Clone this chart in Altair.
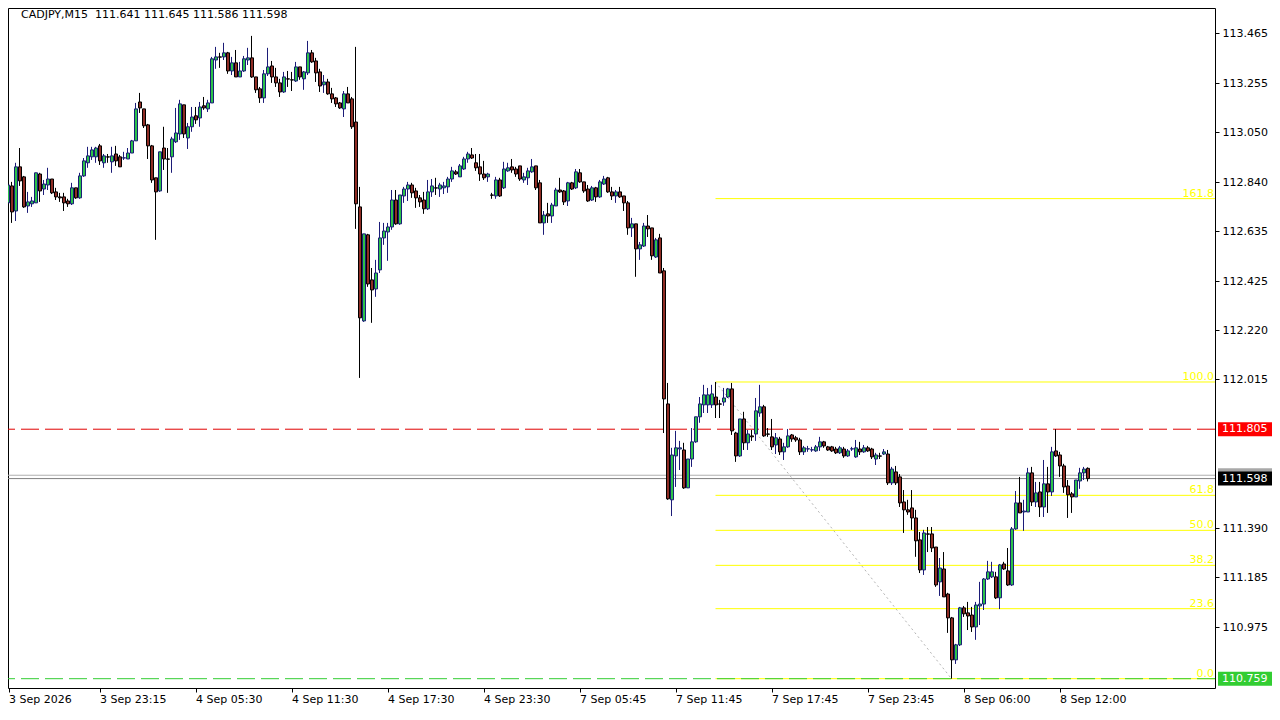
import altair as alt
import pandas as pd

# ---------------- data ----------------
opens = [
    112.641, 112.754, 112.825, 112.720, 112.905, 112.863, 112.741, 112.750, 112.754, 112.875,
    112.812, 112.829, 112.854, 112.800, 112.779, 112.779, 112.762, 112.750, 112.817, 112.775,
    112.867, 112.922, 112.947, 112.947, 112.993, 112.922, 112.947, 112.926, 112.959, 112.947,
    112.942, 112.938, 112.963, 113.014, 113.177, 113.148, 113.081, 112.993, 112.859, 112.804,
    112.984, 112.938, 112.947, 113.010, 113.043, 113.165, 113.026, 113.073, 113.119, 113.110,
    113.161, 113.148, 113.173, 113.353, 113.366, 113.366, 113.383, 113.307, 113.341, 113.282,
    113.307, 113.353, 113.362, 113.282, 113.232, 113.194, 113.295, 113.328, 113.282, 113.257,
    113.219, 113.274, 113.270, 113.265, 113.324, 113.274, 113.299, 113.383, 113.349, 113.303,
    113.249, 113.261, 113.211, 113.194, 113.173, 113.148, 113.211, 113.190, 113.093, 112.737,
    112.259, 112.620, 112.431, 112.393, 112.473, 112.607, 112.632, 112.653, 112.766, 112.666,
    112.783, 112.812, 112.829, 112.804, 112.775, 112.766, 112.729, 112.800, 112.817, 112.812,
    112.817, 112.821, 112.854, 112.884, 112.863, 112.896, 112.938, 112.955, 112.922, 112.905,
    112.875, 112.863, 112.787, 112.783, 112.850, 112.817, 112.888, 112.905, 112.896, 112.909,
    112.850, 112.859, 112.884, 112.909, 112.838, 112.670, 112.708, 112.699, 112.741, 112.808,
    112.804, 112.762, 112.838, 112.817, 112.880, 112.842, 112.812, 112.766, 112.817, 112.779,
    112.833, 112.859, 112.800, 112.783, 112.800, 112.783, 112.754, 112.649, 112.666, 112.561,
    112.573, 112.657, 112.649, 112.527, 112.607, 112.469, 111.911, 111.509, 111.693, 111.722,
    111.718, 111.559, 111.680, 111.752, 111.857, 111.907, 111.907, 111.907, 111.940, 111.911,
    111.919, 111.940, 111.974, 111.789, 111.693, 111.848, 111.748, 111.777, 111.785, 111.873,
    111.899, 111.785, 111.773, 111.739, 111.764, 111.710, 111.731, 111.781, 111.769, 111.760,
    111.710, 111.722, 111.718, 111.714, 111.731, 111.752, 111.731, 111.731, 111.722, 111.706,
    111.722, 111.693, 111.722, 111.689, 111.722, 111.710, 111.727, 111.722, 111.680, 111.693,
    111.701, 111.701, 111.580, 111.626, 111.605, 111.500, 111.467, 111.475, 111.433, 111.341,
    111.215, 111.366, 111.366, 111.311, 111.165, 111.219, 111.114, 111.014, 110.838, 110.901,
    111.056, 111.035, 111.026, 110.976, 111.064, 111.072, 111.177, 111.186, 111.186, 111.098,
    111.240, 111.211, 111.152, 111.387, 111.496, 111.458, 111.458, 111.622, 111.500, 111.542,
    111.479, 111.576, 111.542, 111.714, 111.697, 111.651, 111.567, 111.534, 111.521, 111.588,
    111.622, 111.641,
]
highs = [
    112.775, 112.842, 112.842, 112.922, 112.984, 112.867, 112.800, 112.779, 112.880, 112.880,
    112.850, 112.901, 112.854, 112.817, 112.796, 112.796, 112.771, 112.838, 112.817, 112.880,
    112.942, 112.989, 112.989, 112.989, 113.001, 112.959, 112.959, 112.989, 112.993, 112.955,
    112.968, 112.984, 113.018, 113.173, 113.215, 113.148, 113.085, 112.997, 112.859, 112.968,
    113.073, 112.984, 113.031, 113.152, 113.186, 113.165, 113.089, 113.156, 113.156, 113.177,
    113.198, 113.186, 113.366, 113.408, 113.383, 113.425, 113.387, 113.366, 113.395, 113.345,
    113.370, 113.404, 113.454, 113.282, 113.240, 113.311, 113.404, 113.349, 113.320, 113.274,
    113.303, 113.307, 113.303, 113.345, 113.324, 113.307, 113.433, 113.395, 113.362, 113.316,
    113.290, 113.274, 113.236, 113.198, 113.177, 113.223, 113.240, 113.198, 113.408, 112.821,
    112.624, 112.624, 112.481, 112.515, 112.674, 112.670, 112.670, 112.808, 112.808, 112.787,
    112.821, 112.842, 112.838, 112.817, 112.787, 112.800, 112.850, 112.854, 112.859, 112.838,
    112.842, 112.863, 112.905, 112.892, 112.917, 112.947, 112.968, 112.984, 112.959, 112.959,
    112.930, 112.880, 112.796, 112.863, 112.859, 112.926, 112.922, 112.938, 112.905, 112.909,
    112.880, 112.901, 112.938, 112.909, 112.850, 112.720, 112.754, 112.754, 112.817, 112.859,
    112.808, 112.842, 112.842, 112.896, 112.896, 112.842, 112.829, 112.825, 112.821, 112.850,
    112.867, 112.863, 112.821, 112.808, 112.821, 112.783, 112.762, 112.691, 112.666, 112.590,
    112.670, 112.703, 112.649, 112.607, 112.624, 112.481, 111.999, 111.727, 111.798, 111.756,
    111.748, 111.680, 111.810, 111.857, 111.940, 111.991, 111.978, 111.991, 112.003, 111.928,
    111.978, 111.978, 111.999, 111.794, 111.848, 111.878, 111.802, 111.802, 111.936, 111.991,
    111.907, 111.810, 111.848, 111.789, 111.773, 111.748, 111.806, 111.785, 111.777, 111.769,
    111.735, 111.735, 111.731, 111.739, 111.773, 111.756, 111.735, 111.735, 111.731, 111.735,
    111.731, 111.722, 111.731, 111.760, 111.752, 111.739, 111.735, 111.727, 111.706, 111.706,
    111.722, 111.718, 111.647, 111.651, 111.617, 111.550, 111.509, 111.550, 111.467, 111.374,
    111.383, 111.395, 111.395, 111.311, 111.265, 111.290, 111.119, 111.018, 110.905, 111.060,
    111.064, 111.081, 111.060, 111.081, 111.165, 111.181, 111.253, 111.249, 111.207, 111.240,
    111.249, 111.307, 111.395, 111.546, 111.605, 111.509, 111.643, 111.647, 111.584, 111.584,
    111.676, 111.647, 111.731, 111.805, 111.710, 111.660, 111.592, 111.542, 111.592, 111.643,
    111.647, 111.645,
]
lows = [
    112.611, 112.683, 112.670, 112.678, 112.825, 112.733, 112.712, 112.737, 112.754, 112.758,
    112.787, 112.808, 112.791, 112.766, 112.758, 112.720, 112.737, 112.745, 112.771, 112.771,
    112.863, 112.901, 112.934, 112.922, 112.913, 112.901, 112.922, 112.880, 112.909, 112.905,
    112.934, 112.938, 112.963, 113.014, 113.131, 113.068, 112.938, 112.838, 112.599, 112.800,
    112.892, 112.796, 112.880, 113.005, 113.018, 113.026, 112.980, 113.052, 113.085, 113.073,
    113.144, 113.135, 113.173, 113.316, 113.320, 113.353, 113.295, 113.290, 113.282, 113.282,
    113.303, 113.332, 113.278, 113.215, 113.173, 113.173, 113.286, 113.257, 113.240, 113.198,
    113.215, 113.240, 113.223, 113.261, 113.270, 113.228, 113.290, 113.341, 113.261, 113.219,
    113.215, 113.207, 113.173, 113.156, 113.148, 113.114, 113.173, 113.064, 112.645, 112.020,
    112.255, 112.402, 112.251, 112.360, 112.460, 112.578, 112.511, 112.641, 112.662, 112.662,
    112.754, 112.762, 112.775, 112.733, 112.737, 112.708, 112.724, 112.779, 112.787, 112.779,
    112.791, 112.796, 112.842, 112.871, 112.863, 112.892, 112.922, 112.938, 112.888, 112.846,
    112.850, 112.842, 112.771, 112.771, 112.779, 112.812, 112.884, 112.880, 112.863, 112.846,
    112.838, 112.829, 112.880, 112.808, 112.670, 112.620, 112.670, 112.670, 112.741, 112.796,
    112.745, 112.741, 112.808, 112.812, 112.838, 112.796, 112.758, 112.762, 112.758, 112.775,
    112.829, 112.796, 112.766, 112.754, 112.775, 112.720, 112.620, 112.611, 112.444, 112.515,
    112.569, 112.611, 112.515, 112.523, 112.460, 111.789, 111.509, 111.441, 111.563, 111.634,
    111.555, 111.559, 111.647, 111.748, 111.832, 111.873, 111.873, 111.894, 111.852, 111.852,
    111.903, 111.936, 111.781, 111.668, 111.689, 111.718, 111.718, 111.756, 111.756, 111.857,
    111.773, 111.773, 111.718, 111.701, 111.697, 111.676, 111.727, 111.752, 111.752, 111.697,
    111.697, 111.710, 111.710, 111.710, 111.714, 111.727, 111.714, 111.710, 111.701, 111.701,
    111.685, 111.689, 111.714, 111.685, 111.697, 111.706, 111.710, 111.680, 111.655, 111.680,
    111.697, 111.571, 111.571, 111.571, 111.479, 111.370, 111.446, 111.383, 111.270, 111.202,
    111.194, 111.290, 111.290, 111.144, 111.106, 111.102, 110.951, 110.759, 110.821, 110.896,
    111.018, 110.963, 110.955, 110.922, 110.984, 111.047, 111.173, 111.181, 111.093, 111.051,
    111.215, 111.148, 111.148, 111.383, 111.454, 111.379, 111.458, 111.483, 111.479, 111.437,
    111.437, 111.454, 111.525, 111.689, 111.605, 111.538, 111.433, 111.454, 111.521, 111.555,
    111.592, 111.586,
]
closes = [
    112.758, 112.829, 112.716, 112.905, 112.846, 112.737, 112.758, 112.762, 112.880, 112.804,
    112.833, 112.854, 112.796, 112.779, 112.775, 112.754, 112.750, 112.817, 112.775, 112.867,
    112.930, 112.951, 112.976, 112.984, 112.930, 112.951, 112.946, 112.951, 112.930, 112.905,
    112.943, 112.963, 113.014, 113.148, 113.152, 113.077, 112.993, 112.850, 112.800, 112.968,
    112.938, 112.937, 113.022, 113.047, 113.169, 113.043, 113.073, 113.114, 113.102, 113.156,
    113.152, 113.173, 113.358, 113.366, 113.365, 113.383, 113.307, 113.341, 113.282, 113.307,
    113.358, 113.362, 113.282, 113.228, 113.194, 113.295, 113.324, 113.282, 113.257, 113.219,
    113.282, 113.273, 113.269, 113.324, 113.282, 113.303, 113.383, 113.345, 113.299, 113.244,
    113.261, 113.211, 113.190, 113.169, 113.152, 113.211, 113.173, 113.073, 112.750, 112.272,
    112.624, 112.414, 112.389, 112.460, 112.607, 112.636, 112.653, 112.766, 112.666, 112.787,
    112.812, 112.829, 112.796, 112.775, 112.758, 112.729, 112.800, 112.825, 112.816, 112.829,
    112.825, 112.854, 112.888, 112.875, 112.909, 112.938, 112.959, 112.942, 112.901, 112.875,
    112.859, 112.875, 112.786, 112.850, 112.783, 112.896, 112.901, 112.892, 112.875, 112.854,
    112.863, 112.888, 112.905, 112.817, 112.670, 112.703, 112.699, 112.745, 112.808, 112.800,
    112.758, 112.838, 112.812, 112.884, 112.842, 112.804, 112.762, 112.817, 112.779, 112.842,
    112.854, 112.800, 112.783, 112.800, 112.779, 112.754, 112.649, 112.666, 112.561, 112.578,
    112.657, 112.645, 112.532, 112.599, 112.460, 111.932, 111.513, 111.697, 111.727, 111.727,
    111.559, 111.680, 111.752, 111.857, 111.911, 111.949, 111.949, 111.953, 111.907, 111.910,
    111.936, 111.974, 111.798, 111.693, 111.848, 111.748, 111.785, 111.773, 111.882, 111.899,
    111.777, 111.784, 111.731, 111.769, 111.710, 111.731, 111.777, 111.764, 111.760, 111.710,
    111.727, 111.723, 111.719, 111.731, 111.752, 111.735, 111.718, 111.714, 111.706, 111.727,
    111.693, 111.714, 111.723, 111.727, 111.710, 111.727, 111.714, 111.689, 111.697, 111.692,
    111.710, 111.580, 111.638, 111.580, 111.496, 111.467, 111.458, 111.433, 111.337, 111.215,
    111.370, 111.365, 111.307, 111.152, 111.223, 111.102, 111.014, 110.838, 110.901, 111.056,
    111.031, 111.022, 110.976, 111.068, 111.072, 111.177, 111.207, 111.207, 111.098, 111.236,
    111.219, 111.152, 111.387, 111.496, 111.454, 111.462, 111.622, 111.500, 111.538, 111.479,
    111.576, 111.542, 111.710, 111.693, 111.651, 111.563, 111.530, 111.521, 111.592, 111.622,
    111.638, 111.598,
]

tick_idx = [0, 24, 48, 72, 96, 120, 144, 168, 192, 216, 240, 264]
tick_labels = ["3 Sep 2026", "3 Sep 23:15", "4 Sep 05:30", "4 Sep 11:30", "4 Sep 17:30",
               "4 Sep 23:30", "7 Sep 05:45", "7 Sep 11:45", "7 Sep 17:45", "7 Sep 23:45",
               "8 Sep 06:00", "8 Sep 12:00"]
price_ticks = [113.465, 113.255, 113.050, 112.840, 112.635, 112.425, 112.220, 112.015,
               111.390, 111.185, 110.975]

fib_ratios = [0.0, 23.6, 38.2, 50.0, 61.8, 100.0, 161.8]
fib_hi_idx, fib_hi = 178, 112.003
fib_lo_idx, fib_lo = 237, 110.759

red_level = 111.805
green_level = 110.759
bid_level = 111.598
ask_level = 111.612
title_text = "CADJPY,M15\u00a0\u00a0111.641 111.645 111.586 111.598"

# ---------------- layout ----------------
W, H = 1207, 680
X_DOM = [1.125, 302.875]
Y_DOM = [110.720, 113.571]
FONT = "DejaVu Sans"

BULL_FILL, BULL_LINE = "#2cc24a", "#1c1c78"
BEAR_FILL, BEAR_LINE = "#8e2c24", "#000000"

n = len(opens)
df = pd.DataFrame({"i": list(range(n)), "o": opens, "h": highs, "l": lows, "c": closes})
df["bull"] = df["c"] >= df["o"]

thr = [(tick_idx[k] + tick_idx[k + 1]) / 2 for k in range(len(tick_idx) - 1)]
expr = "'" + tick_labels[-1] + "'"
for k in range(len(thr) - 1, -1, -1):
    expr = f"datum.value < {thr[k]} ? '{tick_labels[k]}' : " + expr
tick_vals = [max(t, X_DOM[0] + 0.125) for t in tick_idx]

xscale = alt.Scale(domain=X_DOM, nice=False, zero=False, padding=0)
yscale = alt.Scale(domain=Y_DOM, nice=False, zero=False, padding=0)
xaxis = alt.Axis(values=tick_vals, labelExpr=expr, title=None, grid=False, domain=False,
                 tickSize=4, tickColor="black", labelAlign="left", labelBaseline="top",
                 labelPadding=1, labelFlush=False, labelOverlap=False,
                 labelFont=FONT, labelFontSize=11, labelColor="black")
yaxis = alt.Axis(orient="right", values=price_ticks, format=".3f", title=None, grid=False,
                 domain=False, tickSize=4, tickColor="black", labelPadding=3,
                 labelFont=FONT, labelFontSize=11, labelColor="black", labelOverlap=False)


def X(f):
    return alt.X(f, type="quantitative", scale=xscale, axis=xaxis)


def Y(f):
    return alt.Y(f, type="quantitative", scale=yscale, axis=yaxis)


# Fibonacci levels
rng = fib_hi - fib_lo
fib_df = pd.DataFrame({
    "lvl": [fib_lo + r / 100.0 * rng for r in fib_ratios],
    "lab": [f"{r:.1f}" for r in fib_ratios],
    "x0": [fib_hi_idx] * len(fib_ratios),
})
fib_lines = alt.Chart(fib_df).mark_rule(color="#ffff00", strokeWidth=1).encode(
    x=X("x0"), x2=alt.value(W), y=Y("lvl"))
fib_text = alt.Chart(fib_df).mark_text(
    align="right", baseline="alphabetic", dy=-2, color="#ffff00", font=FONT, fontSize=11
).encode(x=alt.value(W - 1), y=Y("lvl"), text="lab:N")

trend_df = pd.DataFrame({"i": [fib_hi_idx, fib_lo_idx], "p": [fib_hi, fib_lo]})
trend = alt.Chart(trend_df).mark_line(color="#b4b4b4", strokeWidth=1, strokeDash=[2, 3]).encode(
    x=X("i"), y=Y("p"))

red_line = alt.Chart(pd.DataFrame({"p": [red_level]})).mark_rule(
    color="#e00000", strokeDash=[18, 6], strokeWidth=1).encode(y=Y("p"))
green_line = alt.Chart(pd.DataFrame({"p": [green_level]})).mark_rule(
    color="#32cd32", strokeDash=[18, 6], strokeWidth=1).encode(y=Y("p"))
ask_line = alt.Chart(pd.DataFrame({"p": [ask_level]})).mark_rule(
    color="#b0b0b0", strokeWidth=1).encode(y=Y("p"))
bid_line = alt.Chart(pd.DataFrame({"p": [bid_level]})).mark_rule(
    color="#808080", strokeWidth=1).encode(y=Y("p"))

base = alt.Chart(df)
bull_df = base.transform_filter("datum.bull")
bear_df = base.transform_filter("!datum.bull")

wick_bull = bull_df.mark_rule(color=BULL_LINE, strokeWidth=1, clip=True).encode(
    x=X("i"), y=Y("l"), y2="h:Q")
wick_bear = bear_df.mark_rule(color=BEAR_LINE, strokeWidth=1, clip=True).encode(
    x=X("i"), y=Y("l"), y2="h:Q")
body_bull = bull_df.mark_bar(width=3, xOffset=0.5, fill=BULL_FILL, stroke=BULL_LINE,
                             strokeWidth=1, clip=True).encode(x=X("i"), y=Y("o"), y2="c:Q")
body_bear = bear_df.mark_bar(width=3, xOffset=0.5, fill=BEAR_FILL, stroke=BEAR_LINE,
                             strokeWidth=1, clip=True).encode(x=X("i"), y=Y("o"), y2="c:Q")

title = alt.Chart(pd.DataFrame({"t": [title_text]})).mark_text(
    align="left", baseline="middle", font=FONT, fontSize=11, color="black"
).encode(x=alt.value(13), y=alt.value(6.5), text="t:N")

# price boxes on the right scale (ask box peeks out above the bid box)
box_df = pd.DataFrame({
    "p": [ask_level, bid_level, red_level, green_level],
    "lab": ["", f"{bid_level:.3f}", f"{red_level:.3f}", f"{green_level:.3f}"],
    "col": ["#a8a8a8", "#000000", "#ff0000", "#32cd32"],
    "ord": [0, 1, 2, 3],
})
ask_box = alt.Chart(box_df).transform_filter("datum.ord == 0").mark_rect(
    yOffset=-7, y2Offset=7, clip=False).encode(
    x=alt.value(W + 3), x2=alt.value(W + 57), y=Y("p"), y2="p:Q",
    color=alt.Color("col:N", scale=None))
other_box = alt.Chart(box_df).transform_filter("datum.ord > 0").mark_rect(
    yOffset=-7, y2Offset=7, clip=False).encode(
    x=alt.value(W + 3), x2=alt.value(W + 57), y=Y("p"), y2="p:Q",
    color=alt.Color("col:N", scale=None))
box_text = alt.Chart(box_df).transform_filter("datum.ord > 0").mark_text(
    align="left", baseline="middle", font=FONT, fontSize=11, color="white", clip=False
).encode(x=alt.value(W + 7), y=Y("p"), text="lab:N")

layers = [fib_lines, trend, ask_line, bid_line, red_line, green_line,
          wick_bear, wick_bull, body_bear, body_bull, fib_text, title,
          ask_box, other_box, box_text]

chart = alt.layer(*layers).properties(
    width=W, height=H,
    autosize=alt.AutoSizeParams(type="none"),
    padding={"left": 0, "top": 0, "right": 57, "bottom": 18},
    background="white"
).configure_view(stroke="black", strokeWidth=1)

chart.save("out.html", embed_options={"renderer": "svg", "actions": False})
